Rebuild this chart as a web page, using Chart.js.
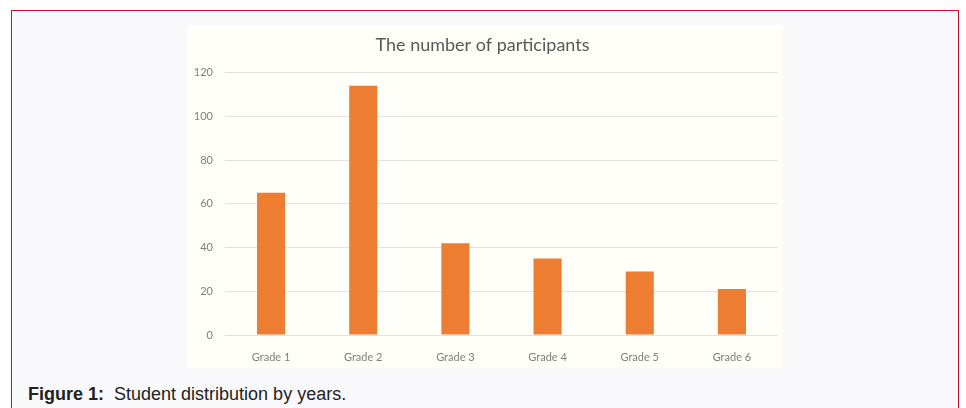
<!DOCTYPE html>
<html>
<head>
<meta charset="utf-8">
<script src="https://cdn.jsdelivr.net/npm/chart.js@4"></script>
<style>
  html, body { margin: 0; padding: 0; background: #ffffff; width: 966px; height: 408px; overflow: hidden; }
  #frame { position: absolute; left: 11px; top: 10px; width: 946px; height: 420px; border: 1px solid #c8102e; background: #f9f9fb; }
  #chartBox { position: absolute; left: 187px; top: 25px; width: 596px; height: 343px; background: #fffef8; }
  #caption { position: absolute; left: 28px; top: 384px; font-family: "Liberation Sans", Arial, sans-serif; font-size: 18px; line-height: 21px; color: #222; white-space: nowrap; }
  #caption b { font-weight: bold; }
</style>
</head>
<body>
<div id="frame"></div>
<div id="chartBox"><canvas id="c" width="596" height="343"></canvas></div>
<div id="caption"><b>Figure 1:</b>&nbsp; Student distribution by years.</div>
<script>
const categories = ["Grade 1", "Grade 2", "Grade 3", "Grade 4", "Grade 5", "Grade 6"];
const participants = [65, 114, 42, 35, 29, 21];
const yTicks = [0, 20, 40, 60, 80, 100, 120];
const chartTitle = "The number of participants";

new Chart(document.getElementById('c'), {
  type: 'bar',
  data: {
    labels: categories,
    datasets: [{
      label: chartTitle,
      data: participants,
      backgroundColor: '#ed7d31',
      borderWidth: 0,
      categoryPercentage: 1,
      barPercentage: 0.305
    }]
  },
  options: {
    responsive: false,
    animation: false,
    layout: { padding: { left: 0, right: 5, top: 0, bottom: 0 } },
    plugins: {
      legend: { display: false },
      tooltip: { enabled: false },
      title: {
        display: true,
        text: chartTitle,
        color: '#595959',
        font: { family: 'Lato', size: 18, weight: 'normal' },
        padding: { top: 9, bottom: 17 }
      }
    },
    scales: {
      x: {
        grid: { display: false, drawTicks: false },
        border: { display: false },
        ticks: { color: '#7f7f7f', font: { family: 'Lato', size: 11 }, padding: 16 },
        afterFit: s => { s.height = 33; }
      },
      y: {
        min: 0, max: 120,
        afterBuildTicks: s => { s.ticks = yTicks.map(v => ({ value: v })); },
        grid: { color: '#e3e1dc', drawTicks: false, lineWidth: 1 },
        border: { display: false },
        ticks: { color: '#7f7f7f', font: { family: 'Lato', size: 11 }, padding: 12 },
        afterFit: s => { s.width = 38; }
      }
    }
  }
});
</script>
</body>
</html>
